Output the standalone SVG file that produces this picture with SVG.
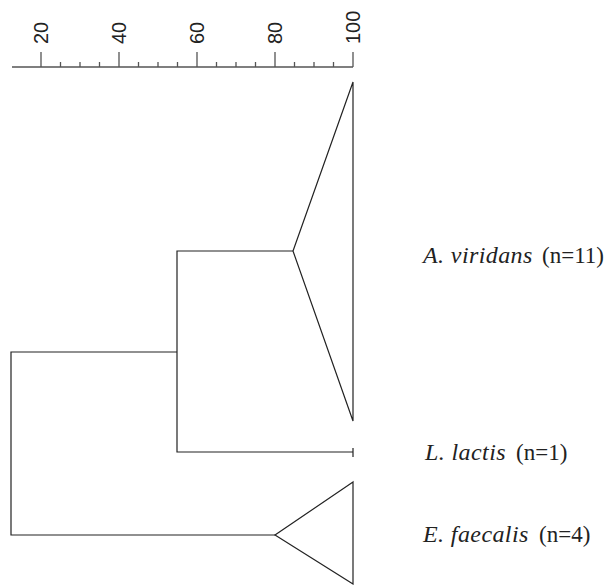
<svg xmlns="http://www.w3.org/2000/svg" width="612" height="585" viewBox="0 0 612 585">
<style>
.ax{stroke:#555;stroke-width:1.3;fill:none}
.br{stroke:#222;stroke-width:1.2;fill:none;stroke-linejoin:miter}
.num{font-family:"Liberation Sans",Arial,sans-serif;font-size:20px;fill:#222}
.lab{font-family:"Liberation Serif","Times New Roman","DejaVu Serif",serif;font-size:23px;fill:#222}
.it{font-style:italic;font-size:24px;letter-spacing:0.4px}
</style>
<rect width="612" height="585" fill="#fff"/>
<g id="axis">
<path class="ax" d="M12,67H353 M41,52V67 M60.5,62V67 M80,62V67 M99.5,62V67 M119,52V67 M138.5,62V67 M158,62V67 M177.5,62V67 M197,52V67 M216.5,62V67 M236,62V67 M255.5,62V67 M275,52V67 M294.5,62V67 M314,62V67 M333.5,62V67 M353,52V67"/>
<text class="num" transform="translate(48,44) rotate(-90)">20</text>
<text class="num" transform="translate(126,44) rotate(-90)">40</text>
<text class="num" transform="translate(204,44) rotate(-90)">60</text>
<text class="num" transform="translate(282,44) rotate(-90)">80</text>
<text class="num" transform="translate(360,44) rotate(-90)">100</text>
</g>
<g id="connectors">
<path class="br" d="M177,352H11V535H275"/>
<path class="br" d="M293,251H177V452H353 M353,448V457"/>
</g>
<g id="A_viridans">
<path class="br" d="M353,82L293,251L353,421Z"/>
<text class="lab" y="263"><tspan class="it" x="423">A. viridans</tspan><tspan x="542">(n=11)</tspan></text>
</g>
<g id="L_lactis">
<text class="lab" y="460"><tspan class="it" x="425">L. lactis</tspan><tspan x="516">(n=1)</tspan></text>
</g>
<g id="E_faecalis">
<path class="br" d="M353,482L275,535L353,584Z"/>
<text class="lab" y="542"><tspan class="it" x="423">E. faecalis</tspan><tspan x="539">(n=4)</tspan></text>
</g>
</svg>
